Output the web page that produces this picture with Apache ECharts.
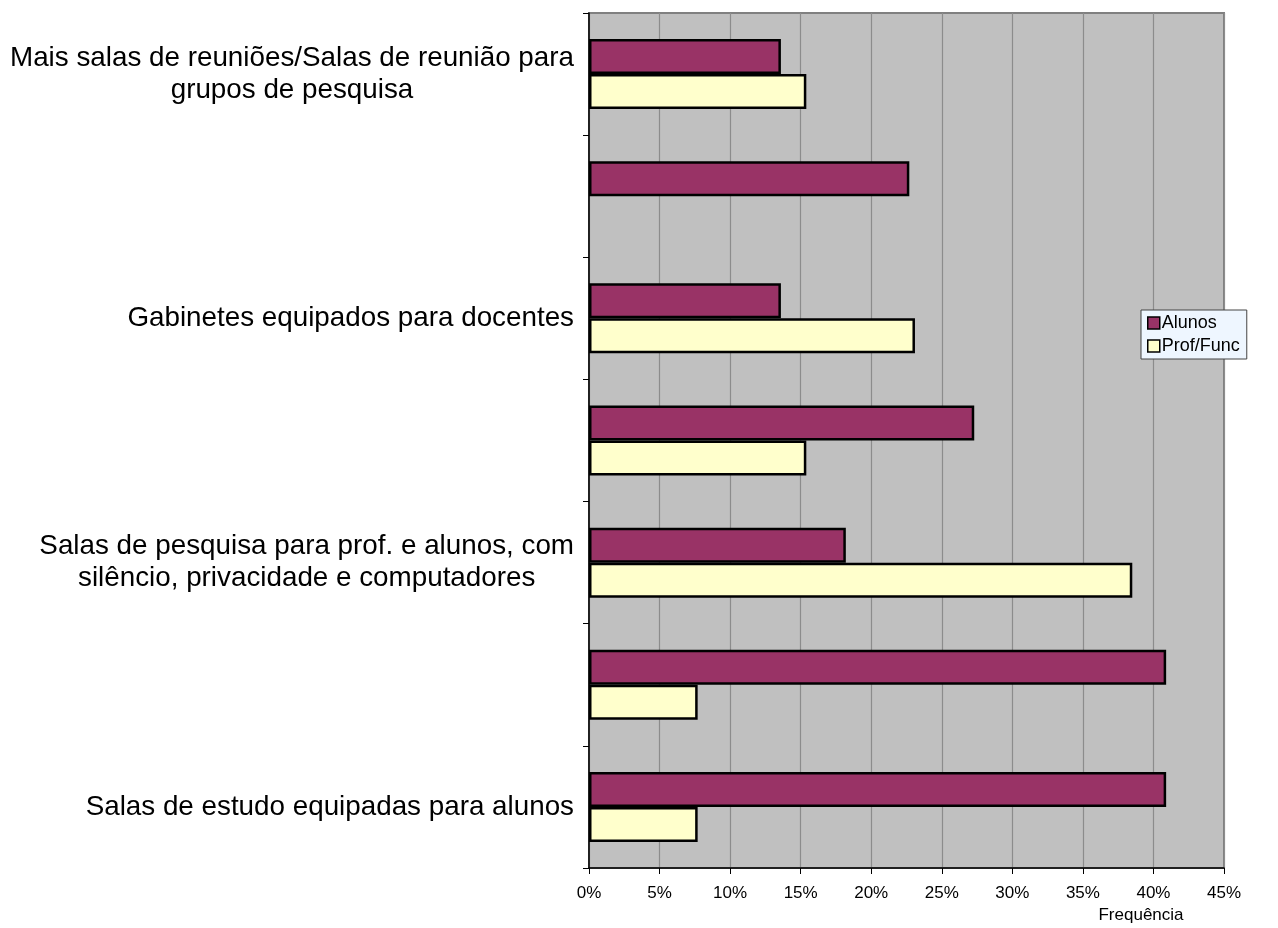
<!DOCTYPE html>
<html>
<head>
<meta charset="utf-8">
<script src="https://cdn.jsdelivr.net/npm/echarts@6/dist/echarts.min.js"></script>
<style>
html,body{margin:0;padding:0;background:#fff;}
#c{width:1278px;height:928px;}
</style>
</head>
<body>
<div id="c"></div>
<script>
// categories listed top to bottom (axis is inverted)
var categories = [
  'Mais salas de reuniões/Salas de reunião para\ngrupos de pesquisa',
  ' ',
  'Gabinetes equipados para docentes',
  '  ',
  'Salas de pesquisa para prof. e alunos, com\nsilêncio, privacidade e computadores',
  '   ',
  'Salas de estudo equipadas para alunos'
];
var seriesNames = ['Alunos', 'Prof/Func'];
var alunos = [13.6, 22.7, 13.6, 27.3, 18.2, 40.9, 40.9];
var profFunc = [15.4, null, 23.1, 15.4, 38.5, 7.7, 7.7];
var xTicks = {min: 0, max: 45, interval: 5};
var xAxisTitle = 'Frequência';

var font = 'Liberation Sans, Arial, sans-serif';
var chart = echarts.init(document.getElementById('c'));
chart.setOption({
  backgroundColor: '#ffffff',
  animation: false,
  grid: {
    left: 589, right: 54, top: 13, bottom: 60,
    show: true, backgroundColor: '#C0C0C0', borderColor: '#808080', borderWidth: 2
  },
  legend: {
    orient: 'vertical',
    left: 1141, top: 310,
    data: seriesNames,
    icon: 'rect',
    itemWidth: 12, itemHeight: 12, itemGap: 5,
    padding: [4, 7, 4, 6],
    backgroundColor: '#EEF6FF',
    borderColor: '#444', borderWidth: 1,
    textStyle: {fontFamily: font, fontSize: 18, color: '#000', padding: [0, 0, 0, -3]},
    itemStyle: {borderColor: '#000', borderWidth: 1.5}
  },
  xAxis: {
    type: 'value',
    min: xTicks.min, max: xTicks.max, interval: xTicks.interval,
    axisLine: {show: true, lineStyle: {color: '#000', width: 1.5}},
    axisTick: {show: true, length: 6, lineStyle: {color: '#000'}},
    axisLabel: {formatter: '{value}%', fontFamily: font, fontSize: 17, color: '#000', margin: 17},
    splitLine: {show: true, lineStyle: {color: '#8c8c8c', width: 1.2}},
    name: xAxisTitle,
    nameLocation: 'end',
    nameGap: -83,
    nameTextStyle: {fontFamily: font, fontSize: 17, color: '#000', align: 'center', verticalAlign: 'top', padding: [39, 0, 0, 0]}
  },
  yAxis: {
    type: 'category',
    inverse: true,
    data: categories,
    axisLine: {show: true, lineStyle: {color: '#000', width: 1.5}},
    axisTick: {show: true, length: 6, interval: 0, lineStyle: {color: '#000'}},
    axisLabel: {
      interval: 1,
      margin: 15,
      color: '#000',
      formatter: function (v) {
        return v.split('\n').map(function (l) { return '{c|' + l + '}'; }).join('\n');
      },
      rich: {c: {fontFamily: font, fontSize: 27.8, lineHeight: 32, align: 'center', color: '#000'}}
    },
    splitLine: {show: false}
  },
  series: [
    {
      name: seriesNames[0], type: 'bar', data: alunos,
      barWidth: 35, barGap: '0%',
      itemStyle: {color: '#993366', borderColor: '#000', borderWidth: 2.5}
    },
    {
      name: seriesNames[1], type: 'bar', data: profFunc,
      barWidth: 35, barGap: '0%',
      itemStyle: {color: '#FFFFCC', borderColor: '#000', borderWidth: 2.5}
    }
  ]
});
</script>
</body>
</html>
